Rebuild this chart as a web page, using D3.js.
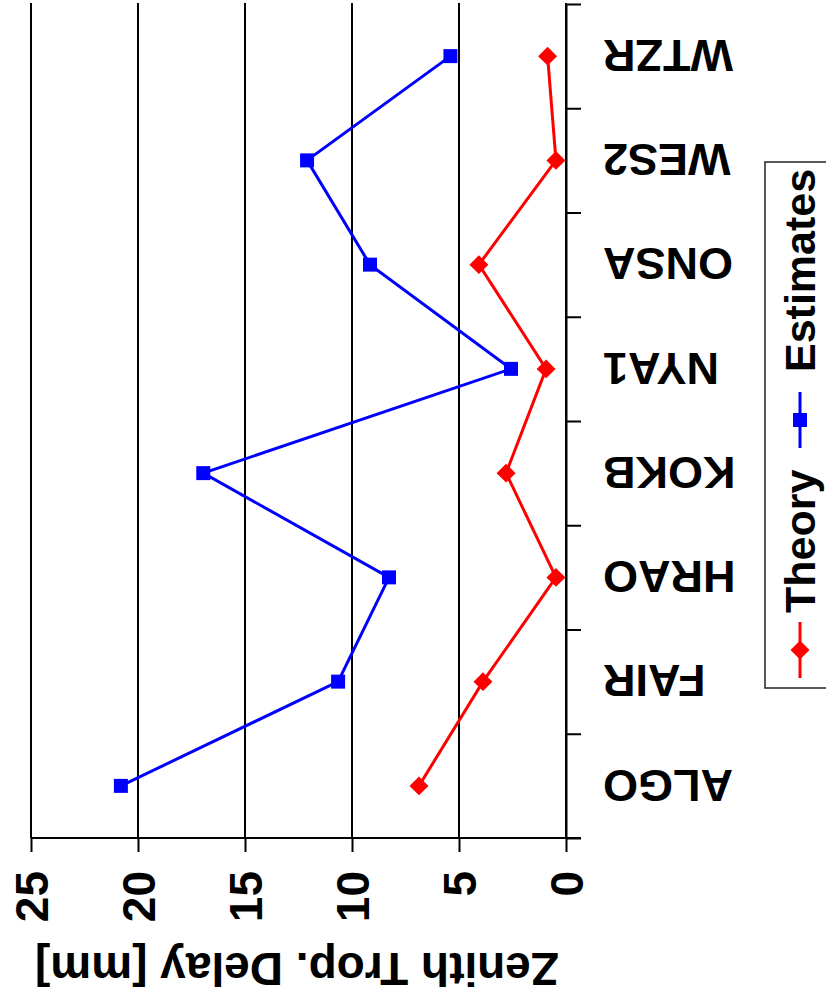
<!DOCTYPE html>
<html>
<head>
<meta charset="utf-8">
<script src="https://cdn.jsdelivr.net/npm/d3@7"></script>
<style>
  body { margin: 0; background: #fff; }
  svg { display: block; font-family: "Liberation Sans", Arial, sans-serif; font-weight: bold; }
</style>
</head>
<body>
<svg width="826" height="1005"></svg>
<script>
// stations, bottom to top
var stations = ['ALGO', 'FAIR', 'HRAO', 'KOKB', 'NYA1', 'ONSA', 'WES2', 'WTZR'];
var estimates = [20.8, 10.65, 8.27, 16.95, 2.57, 9.16, 12.1, 5.4];
var theory = [6.87, 3.88, 0.47, 2.8, 0.93, 4.07, 0.47, 0.86];
var delayTicks = [0, 5, 10, 15, 20, 25];
var seriesNames = ['Theory', 'Estimates'];

var svg = d3.select('svg');
var plot = { left: 31, right: 566, top: 4, bottom: 838 };

// value axis runs right-to-left (chart is turned on its side)
var x = d3.scaleLinear().domain([0, 25]).range([plot.right, plot.left]);
var y = d3.scaleBand().domain(stations).range([plot.bottom, plot.top]).padding(0);
var yEdge = d3.scaleLinear().domain([0, stations.length]).range([plot.bottom, plot.top]);

// grid lines
svg.append('g').selectAll('line')
    .data(delayTicks)
    .enter().append('line')
    .attr('x1', d => x(d)).attr('x2', d => x(d))
    .attr('y1', 3).attr('y2', plot.bottom)
    .attr('stroke', '#000')
    .attr('stroke-width', 2);

// value axis (bottom)
var xAxis = svg.append('g')
    .attr('transform', 'translate(0,' + plot.bottom + ')')
    .call(d3.axisBottom(x).tickValues(delayTicks).tickSize(14).tickSizeOuter(0));
xAxis.select('.domain').remove();
xAxis.selectAll('.tick line').attr('stroke', '#000').attr('stroke-width', 2);
xAxis.selectAll('.tick text')
    .attr('x', 0).attr('y', 0)
    .attr('dy', '0.36em')
    .attr('transform', 'translate(0,33) rotate(-90)')
    .attr('text-anchor', 'end')
    .attr('fill', '#000')
    .style('font-size', '46px')
    .style('font-family', '"Liberation Sans", Arial, sans-serif')
    .style('font-weight', 'bold');

svg.append('line')
    .attr('x1', plot.left).attr('x2', plot.right + 15)
    .attr('y1', plot.bottom).attr('y2', plot.bottom)
    .attr('stroke', '#000').attr('stroke-width', 2);

// category axis (right side)
var yAxis = svg.append('g')
    .attr('transform', 'translate(' + plot.right + ',0)')
    .call(d3.axisRight(yEdge).tickValues(d3.range(stations.length + 1)).tickSize(15).tickSizeOuter(0).tickFormat(''));
yAxis.select('.domain').attr('stroke', '#000').attr('stroke-width', 2);
yAxis.selectAll('.tick line').attr('stroke', '#000').attr('stroke-width', 2);

svg.append('g').selectAll('text')
    .data(stations)
    .enter().append('text')
    .attr('transform', d => 'translate(603,' + (y(d) + y.bandwidth() / 2) + ') rotate(180)')
    .attr('dy', '0.36em')
    .attr('text-anchor', 'end')
    .style('font-size', '45px')
    .text(d => d);

// axis title, upside down
svg.append('text')
    .attr('transform', 'translate(297,970) rotate(180)')
    .attr('dy', '0.36em')
    .attr('text-anchor', 'middle')
    .style('font-size', '46px')
    .text('Zenith Trop. Delay [mm]');

// series
var cy = d => y(d) + y.bandwidth() / 2;
var line = d3.line().x(d => x(d.v)).y(d => cy(d.s));
var estData = stations.map((s, i) => ({ s: s, v: estimates[i] }));
var theoryData = stations.map((s, i) => ({ s: s, v: theory[i] }));

var blue = '#0000ff';
var red = '#ff0000';
var squareSym = d3.symbol().type(d3.symbolSquare).size(196);
var diamondSym = d3.symbol().type(d3.symbolSquare).size(180);

svg.append('path').datum(estData)
    .attr('d', line).attr('fill', 'none').attr('stroke', blue).attr('stroke-width', 3);
svg.append('g').selectAll('path')
    .data(estData)
    .enter().append('path')
    .attr('d', squareSym)
    .attr('transform', d => 'translate(' + x(d.v) + ',' + cy(d.s) + ')')
    .attr('fill', blue);

svg.append('path').datum(theoryData)
    .attr('d', line).attr('fill', 'none').attr('stroke', red).attr('stroke-width', 3);
svg.append('g').selectAll('path')
    .data(theoryData)
    .enter().append('path')
    .attr('d', diamondSym)
    .attr('transform', d => 'translate(' + x(d.v) + ',' + cy(d.s) + ') rotate(45)')
    .attr('fill', red);

// legend (rotated with the chart)
var legend = svg.append('g');
legend.append('rect')
    .attr('x', 765).attr('y', 162)
    .attr('width', 100).attr('height', 526)
    .attr('fill', 'none').attr('stroke', '#222').attr('stroke-width', 1.5);

var legendItems = [
    { name: seriesNames[0], color: red, sym: diamondSym, rot: 45, lineTop: 622, textY: 613 },
    { name: seriesNames[1], color: blue, sym: squareSym, rot: 0, lineTop: 392, textY: 372 }
];
legendItems.forEach(function (it) {
    legend.append('line')
        .attr('x1', 800).attr('x2', 800)
        .attr('y1', it.lineTop).attr('y2', it.lineTop + 56)
        .attr('stroke', it.color).attr('stroke-width', 3);
    legend.append('path')
        .attr('d', it.sym)
        .attr('transform', 'translate(800,' + (it.lineTop + 28) + ') rotate(' + it.rot + ')')
        .attr('fill', it.color);
    legend.append('text')
        .attr('transform', 'translate(800,' + it.textY + ') rotate(-90)')
        .attr('dy', '0.36em')
        .style('font-size', '43px')
        .text(it.name);
});
</script>
</body>
</html>
